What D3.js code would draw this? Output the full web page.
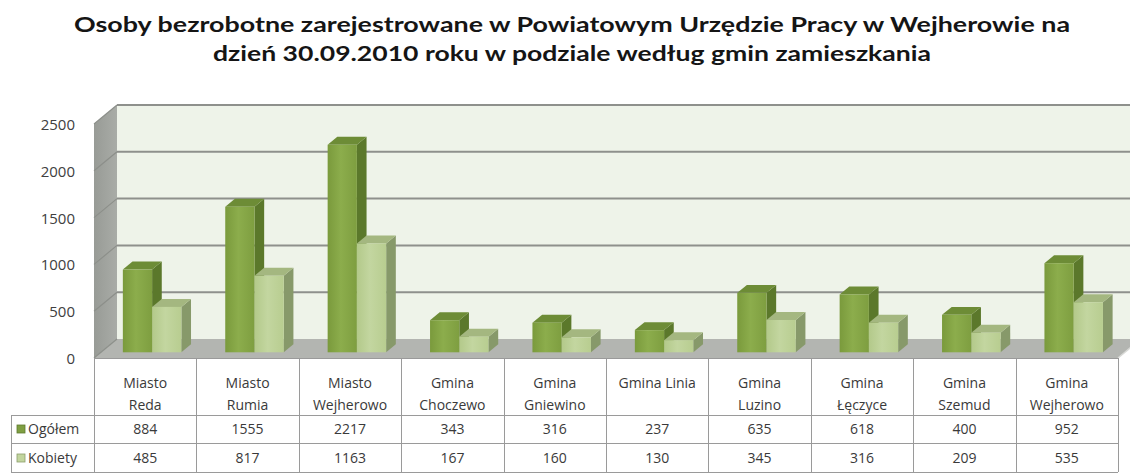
<!DOCTYPE html>
<html><head><meta charset="utf-8">
<script src="https://cdn.jsdelivr.net/npm/d3@7"></script>
<style>body{margin:0;background:#fff;} svg{display:block;}</style>
</head><body><svg id="c" width="1130" height="473"></svg>
<script>
// ---------- data ----------
const titleLines = [
  "Osoby bezrobotne zarejestrowane w Powiatowym Urzędzie Pracy w Wejherowie na",
  "dzień 30.09.2010 roku w podziale  według gmin zamieszkania"
];
const categories = ["Miasto\nReda","Miasto\nRumia","Miasto\nWejherowo","Gmina\nChoczewo","Gmina\nGniewino","Gmina Linia","Gmina\nLuzino","Gmina\nŁęczyce","Gmina\nSzemud","Gmina\nWejherowo"];
const seriesNames = ["Ogółem","Kobiety"];
const ogolem  = [884,1555,2217,343,316,237,635,618,400,952];
const kobiety = [485,817,1163,167,160,130,345,316,209,535];
const yTicks = [0,500,1000,1500,2000,2500];

// ---------- layout ----------
const svg = d3.select("#c");
const FONT = "'Open Sans', 'DejaVu Sans', sans-serif";
const TFONT = "Lato, 'Open Sans', sans-serif";
const x = d3.scaleBand().domain(categories).range([94,1118]);
const y = d3.scaleLinear().domain([0,2500]).range([358,124]);
const sub = d3.scaleBand().domain(seriesNames).range([0,x.bandwidth()]).paddingInner(0).paddingOuter(0.75);
const DX = 23, DY = -19;          // full depth of the box
const tF = 0.30, tB = 0.72;       // bar depth (front/back fraction)
const series = [
  {name:seriesNames[0], values:ogolem,  front:["#7a9a3c","#8cad4c","#7e9e40"], top:"#6d8c36", side:"#5b782b", key:"#7f9f42", keyStroke:"#5e7a30"},
  {name:seriesNames[1], values:kobiety, front:["#b3c98a","#c3d6a0","#b8cd90"], top:"#a4b780", side:"#87996a", key:"#c2d59e", keyStroke:"#8c9d6b"}
];

const defs = svg.append("defs");
series.forEach((s,i)=>{
  const g = defs.append("linearGradient").attr("id","gf"+i).attr("x1","0").attr("x2","1").attr("y1","0").attr("y2","0");
  g.append("stop").attr("offset","0").attr("stop-color",s.front[0]);
  g.append("stop").attr("offset","0.45").attr("stop-color",s.front[1]);
  g.append("stop").attr("offset","1").attr("stop-color",s.front[2]);
});
const gw = defs.append("linearGradient").attr("id","gwall").attr("x1","0").attr("x2","1").attr("y1","0").attr("y2","0");
gw.append("stop").attr("offset","0").attr("stop-color","#989b96");
gw.append("stop").attr("offset","1").attr("stop-color","#a9aca7");

const xL = x.range()[0], xR = x.range()[1];
const yB = y(0), yT = y(2500);
const pts = a => a.map(p=>p.join(",")).join(" ");

// back wall
svg.append("polygon").attr("points", pts([[xL+DX,yT+DY],[xR+DX+20,yT+DY],[xR+DX+20,yB+DY],[xL+DX,yB+DY]]))
  .attr("fill","#eef3e9");
// side wall
svg.append("polygon").attr("points", pts([[xL,yT],[xL+DX,yT+DY],[xL+DX,yB+DY],[xL,yB]]))
  .attr("fill","url(#gwall)");
// floor
svg.append("polygon").attr("points", pts([[xL,yB],[xL+DX,yB+DY],[xR+DX,yB+DY],[xR,yB]]))
  .attr("fill","#b3b5b1");
svg.append("line").attr("x1",xR).attr("y1",yB).attr("x2",xR+DX).attr("y2",yB+DY).attr("stroke","#d8d9d6").attr("stroke-width",1.5);

// gridlines
yTicks.forEach(v=>{
  if (v>0) svg.append("line").attr("x1",xL+DX).attr("x2",1130).attr("y1",y(v)+DY).attr("y2",y(v)+DY)
     .attr("stroke","#8e908c").attr("stroke-width",2);
  svg.append("line").attr("x1",xL).attr("y1",y(v)).attr("x2",xL+DX).attr("y2",y(v)+DY)
     .attr("stroke","#8c8f8a").attr("stroke-width",1.2);
});

// y axis labels
const ax = svg.append("g").attr("transform",`translate(${xL},0)`)
  .call(d3.axisLeft(y).tickValues(yTicks).tickSize(0).tickPadding(19).tickFormat(d3.format("d")));
ax.select(".domain").remove();
ax.selectAll("text").attr("font-family",FONT).attr("font-size",15).attr("fill","#404040").attr("dy","0.36em");

// bars
const dF = [DX*tF, DY*tF], dD = [DX*(tB-tF), DY*(tB-tF)];
categories.forEach((c,ci)=>{
  series.forEach((s,si)=>{
    const v = s.values[ci];
    const w = sub.bandwidth();
    const fx = x(c) + sub(s.name) + dF[0];
    const fyT = y(v) + dF[1], fyB = y(0) + dF[1];
    const g = svg.append("g");
    g.append("polygon").attr("points", pts([[fx+w,fyT],[fx+w+dD[0],fyT+dD[1]],[fx+w+dD[0],fyB+dD[1]],[fx+w,fyB]]))
      .attr("fill",s.side);
    g.append("polygon").attr("points", pts([[fx,fyT],[fx+dD[0],fyT+dD[1]],[fx+w+dD[0],fyT+dD[1]],[fx+w,fyT]]))
      .attr("fill",s.top);
    g.append("rect").attr("x",fx).attr("y",fyT).attr("width",w).attr("height",fyB-fyT)
      .attr("fill",`url(#gf${si})`);
  });
});

// title
titleLines.forEach((t,i)=>{
  svg.append("text").attr("x",572).attr("y",[32,61][i]).attr("text-anchor","middle")
    .attr("font-family",TFONT).attr("font-weight","bold").attr("font-size",21).attr("fill","#151515")
    .attr("textLength",[996,718][i]).attr("lengthAdjust","spacingAndGlyphs").text(t);
});

// data table
const tY0 = yB, tY1 = 415, tY2 = 443, tY3 = 472, tXL = 11;
const lc = "#9a9a9a";
const tbl = svg.append("g").attr("stroke",lc).attr("stroke-width",1).attr("shape-rendering","crispEdges");
tbl.append("line").attr("x1",xL).attr("x2",xR).attr("y1",tY0+0.5).attr("y2",tY0+0.5);
[tY1,tY2,tY3].forEach(yy=>tbl.append("line").attr("x1",tXL).attr("x2",xR).attr("y1",yy+0.5).attr("y2",yy+0.5));
tbl.append("line").attr("x1",tXL+0.5).attr("x2",tXL+0.5).attr("y1",tY1).attr("y2",tY3);
categories.forEach(c=>tbl.append("line").attr("x1",Math.round(x(c))+0.5).attr("x2",Math.round(x(c))+0.5).attr("y1",tY0).attr("y2",tY3));
tbl.append("line").attr("x1",xR+0.5).attr("x2",xR+0.5).attr("y1",tY0).attr("y2",tY3);

const txt = svg.append("g").attr("font-family",FONT).attr("font-size",14).attr("fill","#3a3a3a").attr("text-anchor","middle");
categories.forEach((c,ci)=>{
  const cx = x(c) + x.bandwidth()/2;
  c.split("\n").forEach((ln,li)=>{
    txt.append("text").attr("x",cx).attr("y",[383,405][li]).attr("dy","0.35em").text(ln);
  });
  series.forEach((s,si)=>{
    txt.append("text").attr("x",cx).attr("y",[429,458][si]).attr("dy","0.35em").text(s.values[ci]);
  });
});
series.forEach((s,si)=>{
  const cy = [429,458][si];
  svg.append("rect").attr("x",17).attr("y",cy-4).attr("width",8).attr("height",8)
    .attr("fill",s.key).attr("stroke",s.keyStroke).attr("stroke-width",0.8);
  svg.append("text").attr("x",28).attr("y",cy).attr("dy","0.35em").attr("font-family",FONT).attr("font-size",14)
    .attr("fill","#3a3a3a").text(s.name);
});
</script></body></html>
